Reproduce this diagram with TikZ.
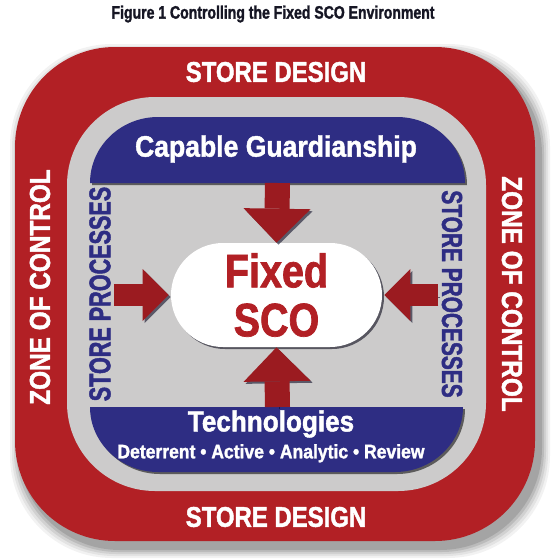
\documentclass[tikz,border=0pt]{standalone}
\usepackage{fontspec}
\usepackage{tikz}
\usetikzlibrary{shapes.misc, arrows.meta, shadows, positioning}
\newfontfamily\widesf[FakeStretch=0.9,FakeBold=1.5]{Liberation Sans Bold}
\newfontfamily\narrowsf[FakeStretch=0.84,FakeBold=1.5]{Liberation Sans Bold}
\newfontfamily\thinsf[FakeStretch=0.72,FakeBold=1.5]{Liberation Sans Bold}
\newfontfamily\titlesf[FakeStretch=0.78,FakeBold=1.5]{Liberation Sans Bold}
\definecolor{zonered}{RGB}{178,32,37}
\definecolor{arrowred}{RGB}{155,27,32}
\definecolor{bandblue}{RGB}{46,45,131}
\definecolor{procgray}{RGB}{204,203,203}
\definecolor{titleink}{RGB}{22,22,36}

\begin{document}
\begin{tikzpicture}[x=1pt,y=-1pt,inner sep=0pt,
                    semithick]
\tikzstyle{every node}=[text=white]
\tikzset{
  caps/.style={font=\narrowsf\fontsize{#1}{#1}\selectfont},
  lower/.style={font=\widesf\fontsize{#1}{#1}\selectfont},
  bandshadow/.style={drop shadow={shadow xshift=2pt,shadow yshift=-2pt,opacity=.55,fill=black}},
  arrowshadow/.style={preaction={draw=black!70!bandblue,opacity=.6,
      transform canvas={shift={(2pt,-2pt)}}}},
  fatarrow/.style={draw=arrowred,line width=25pt,arrowshadow,
      -{Triangle[width=67pt,length=34pt,line width=0pt]}},
  slimarrow/.style={draw=arrowred,line width=22pt,arrowshadow,
      -{Triangle[width=52pt,length=26pt,line width=0pt]}}
}

  \useasboundingbox (0,0) rectangle (552,560);
  \fill[white] (0,0) rectangle (552,560);

  % soft shadow round the zone of control
  \foreach \s/\o in {10/0.05,8/0.06,6/0.08,4/0.10,2/0.12}
    \fill[black,opacity=\o,rounded corners=102pt] (15-\s+5,47-\s+7) rectangle (535+\s+5,541+\s+7);

  \fill[zonered,rounded corners=100pt] (15,47) rectangle (535,541);
  \fill[procgray,rounded corners=88pt] (67,97) rectangle (486,491);

  % blue bands
  \fill[bandblue,bandshadow] (90,183) .. controls (90,146) and (121,117) .. (158,117)
        -- (397,117) .. controls (434,117) and (465,146) .. (465,183) -- cycle;
  \fill[bandblue,bandshadow] (90,407) .. controls (90,443) and (121,472) .. (158,472)
        -- (395,472) .. controls (432,472) and (463,443) .. (463,407) -- cycle;
  \coordinate (guardfoot) at (277.5,183);
  \coordinate (techtop)   at (277.5,407);

  \node[caps=28.5] (designtop) at (276,72)  {STORE DESIGN};
  \node[caps=28.5] (designbot) at (276,517) {STORE DESIGN};
  \node[caps=29,rotate=90]  (zoneL) at (40,287)  {ZONE OF CONTROL};
  \node[caps=29,rotate=-90] (zoneR) at (512,294) {ZONE OF CONTROL};

  \node[font=\thinsf\fontsize{30}{30}\selectfont,text=bandblue,rotate=90]  (procL) at (100,294) {STORE PROCESSES};
  \node[font=\thinsf\fontsize{29}{29}\selectfont,text=bandblue,rotate=-90] (procR) at (452,294) {STORE PROCESSES};

  \node[lower=29.5] (guard) at (276,149) {Capable Guardianship};
  \node[lower=29] (tech)  at (271,424) {Technologies};
  \node[lower=19.5] (kinds) [below=6pt of tech] {Deterrent \textbullet{} Active \textbullet{} Analytic \textbullet{} Review};

  \node[rounded rectangle,fill=white,minimum width=211pt,minimum height=104pt,
        align=center,text=zonered,font=\narrowsf\fontsize{47}{49}\selectfont,
        drop shadow={shadow xshift=2pt,shadow yshift=-2pt,opacity=.6,fill=black!80!bandblue}]
        (sco) at (276.5,295) {Fixed\\SCO};

  \node[font=\titlesf\fontsize{18}{18}\selectfont,text=titleink] (title) at (273,14) {Figure 1 Controlling the Fixed SCO Environment};

  \path
  (guardfoot) edge[fatarrow] (sco.north)
  (techtop)   edge[fatarrow] (sco.south)
  (procL.south |- sco.west) edge[slimarrow,shorten <=3pt] ([xshift=-2pt]sco.west)
  (procR.south |- sco.east) edge[slimarrow,shorten <=3pt] ([xshift=2pt]sco.east)
  ; %end path

\end{tikzpicture}
\end{document}
